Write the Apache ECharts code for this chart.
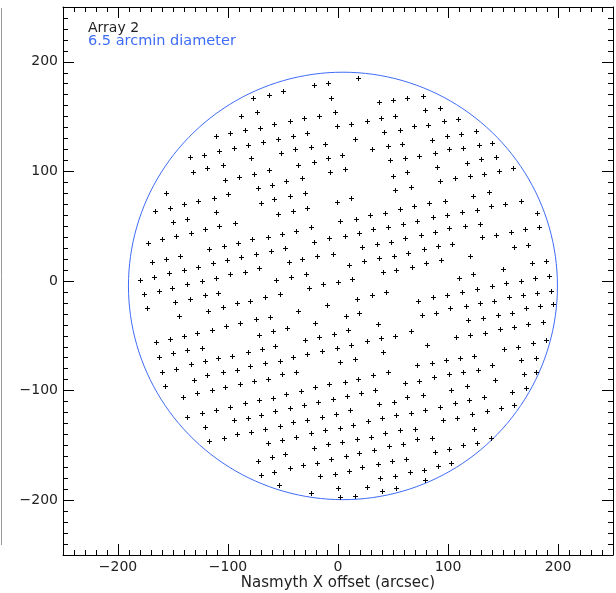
<!DOCTYPE html>
<html>
<head>
<meta charset="utf-8">
<script src="https://cdn.jsdelivr.net/npm/echarts@6/dist/echarts.min.js"></script>
<style>
html, body { margin: 0; padding: 0; background: #fff; }
#chart { width: 616px; height: 593px; }
</style>
</head>
<body>
<div id="chart"></div>
<script>
// detector positions (arcsec)
const nwPoints = [[-77,167],[-63,170],[-88,151],[-74,154],[-85,138],[-71,140],[-111,132],[-98,135],[-82,124],[-68,127],[-135,113],[-122,115],[-108,119],[-95,121],[-79,112],[-132,99],[-119,103],[-105,106],[-63,101],[-90,95],[-76,98],[-103,92],[-73,85],[-156,80],[-100,79],[-113,76],[-127,73],[-140,70],[-153,67],[-166,64],[-70,71],[-111,63]];
const nPoints = [[18,185],[-22,179],[-9,181],[-50,173],[-6,167],[63,167],[50,165],[37,163],[-3,154],[-17,151],[-31,149],[-44,146],[-58,143],[52,151],[39,149],[26,146],[12,143],[-1,141],[69,141],[56,138],[42,136],[-28,135],[-41,132],[-55,130],[15,130],[58,125],[45,123],[31,120],[-12,125],[-25,122],[-39,120],[-52,117],[61,112],[47,110],[4,115],[-9,112],[-22,109],[-36,106],[6,102],[-7,99],[63,99],[50,96],[-33,94],[-47,91],[-60,88],[66,86],[52,83],[12,76],[-1,72],[-30,80],[-44,78],[-58,75],[69,68],[56,66],[43,62],[-28,67],[-41,64],[-55,61]];
const nePoints = [[77,169],[93,158],[79,156],[109,148],[96,146],[82,142],[125,137],[112,134],[99,132],[85,129],[140,126],[128,124],[114,121],[101,120],[88,117],[74,114],[144,113],[130,111],[117,108],[90,104],[159,103],[146,100],[133,98],[120,96],[106,94],[93,91],[137,81],[123,78],[166,73],[152,70],[139,68],[126,65],[113,63],[97,73],[83,71],[181,62]];
const wPoints = [[-150,54],[-137,57],[-94,53],[-108,50],[-121,47],[-134,44],[-147,41],[-160,38],[-173,35],[-64,40],[-78,38],[-91,35],[-104,32],[-117,29],[-61,27],[-75,25],[-88,22],[-144,23],[-156,20],[-169,17],[-101,19],[-114,16],[-127,13],[-140,10],[-154,7],[-167,4],[-180,1],[-72,12],[-85,8],[-98,6],[-111,3],[-124,0],[-137,-3],[-151,-6],[-163,-9],[-176,-12],[-109,-11],[-121,-13],[-135,-16],[-148,-19],[-66,-15],[-80,-18],[-92,-20],[-174,-25],[-105,-24],[-118,-27],[-145,-32],[-62,-33],[-75,-35],[-89,-38],[-102,-41],[-115,-45],[-128,-47],[-140,-50],[-153,-53],[-165,-56],[-72,-49],[-69,-62],[-82,-65],[-96,-68],[-109,-70],[-124,-61],[-137,-63],[-150,-66],[-163,-69]];
const cPoints = [[2,55],[16,57],[29,60],[59,52],[45,49],[32,47],[19,44],[6,41],[-8,39],[-22,36],[-25,49],[-38,46],[-51,43],[61,39],[48,36],[35,34],[22,31],[-48,30],[-5,25],[-19,23],[-33,20],[-45,17],[64,26],[51,23],[37,21],[24,18],[10,15],[67,13],[53,10],[41,8],[-29,6],[-43,4],[-56,1],[13,2],[0,-1],[-14,-3],[-26,-6],[-53,-12],[44,-10],[31,-13],[17,-16],[-10,-22],[-36,-27],[19,-29],[7,-32],[-21,-38],[36,-39],[-46,-43],[-59,-46],[9,-45],[-4,-48],[-17,-51],[-30,-54],[66,-46],[52,-50],[39,-52],[26,-55],[12,-58],[-1,-61],[-15,-64],[-28,-67],[-41,-69],[-57,-59],[41,-65],[15,-71]];
const ePoints = [[72,55],[86,58],[99,60],[75,42],[88,45],[101,48],[115,50],[129,52],[131,40],[144,42],[157,45],[170,47],[183,49],[78,29],[91,32],[104,34],[160,31],[173,33],[120,23],[80,16],[94,19],[176,16],[189,18],[150,11],[123,6],[110,3],[192,5],[179,3],[166,0],[153,-2],[140,-5],[126,-7],[113,-10],[99,-13],[86,-15],[73,-18],[194,-9],[181,-11],[168,-13],[155,-15],[142,-18],[129,-20],[116,-23],[102,-25],[89,-29],[76,-31],[195,-21],[184,-23],[171,-25],[158,-29],[145,-31],[132,-34],[118,-36],[186,-37],[173,-39],[160,-42],[147,-44],[134,-47],[120,-49],[107,-51],[189,-54],[177,-57],[164,-60],[151,-62],[81,-58],[124,-68],[111,-70],[98,-72],[180,-70],[166,-72]];
const swPoints = [[-160,-83],[-147,-80],[-134,-76],[-121,-73],[-92,-81],[-80,-78],[-66,-75],[-131,-90],[-119,-86],[-105,-83],[-157,-96],[-141,-106],[-128,-102],[-115,-99],[-103,-97],[-89,-94],[-76,-91],[-64,-89],[-72,-109],[-85,-111],[-98,-115],[-111,-118],[-124,-120],[-137,-124],[-70,-122],[-82,-125],[-95,-127],[-121,-133],[-66,-135],[-79,-138],[-92,-140],[-104,-143],[-117,-146],[-64,-148],[-60,-161],[-73,-164],[-70,-177]];
const sPoints = [[-53,-73],[2,-74],[72,-77],[-51,-85],[-38,-83],[32,-86],[45,-83],[6,-92],[18,-89],[61,-93],[-8,-94],[-21,-97],[-34,-100],[-47,-103],[-59,-107],[34,-99],[21,-102],[8,-105],[-5,-108],[-18,-110],[-31,-113],[-44,-116],[-57,-119],[63,-106],[51,-110],[37,-112],[11,-118],[-2,-121],[-15,-124],[-28,-127],[-41,-129],[-53,-132],[66,-120],[53,-122],[40,-125],[27,-128],[14,-131],[2,-134],[-12,-136],[-25,-139],[-38,-142],[-51,-145],[70,-135],[56,-136],[43,-139],[30,-142],[17,-144],[4,-147],[-9,-149],[-22,-152],[59,-149],[46,-151],[33,-154],[19,-157],[7,-160],[-6,-162],[-19,-166],[-32,-168],[-44,-171],[-58,-174],[-48,-158],[62,-162],[49,-164],[36,-167],[22,-170],[10,-173],[-3,-176],[-16,-178],[65,-174],[52,-178],[38,-180],[-54,-186],[0,-189],[26,-188],[53,-189],[40,-192],[-25,-193],[2,-197],[15,-196]];
const sePoints = [[85,-75],[140,-77],[74,-91],[87,-88],[101,-85],[114,-83],[127,-81],[143,-90],[169,-85],[180,-83],[77,-104],[103,-99],[117,-96],[158,-101],[171,-98],[133,-106],[119,-109],[106,-111],[93,-115],[79,-118],[160,-113],[148,-116],[135,-119],[122,-121],[108,-125],[95,-127],[124,-135],[139,-143],[126,-148],[114,-150],[101,-153],[88,-156],[72,-144],[85,-143],[103,-166],[91,-169],[78,-172],[79,-182]];

const tickValues = [-200, -100, 0, 100, 200];
const circleCenter = [4.5, -4.5];
const circleDiameter = 390; // 6.5 arcmin

const blue = "#3f6cf6";
const allPoints = [].concat(nwPoints, nPoints, nePoints, wPoints, cPoints, ePoints, swPoints, sPoints, sePoints);

// outline of the field of view
let circle = [];
for (let a = 0; a <= 360; a += 2) {
  let t = a * Math.PI / 180;
  circle.push([circleCenter[0] + circleDiameter / 2 * Math.cos(t), circleCenter[1] + circleDiameter / 2 * Math.sin(t)]);
}

let labelFmt = (v) => String(v).replace("-", "\u2212");
let labelStyle = { fontFamily: "DejaVu Sans", fontSize: 14, color: "#222" };

// minor ticks every 10, major ticks every 100, all pointing inward
let makeAxis = (position, major, withLabels) => {
  let axis = {
    type: "value",
    min: -250,
    max: 250,
    position: position,
    interval: major ? 50 : 10,
    splitLine: { show: false },
    axisLine: { show: !major, onZero: false, lineStyle: { color: "#000", width: 1 } },
    axisTick: { inside: true, length: major ? 11 : 5, lineStyle: { color: "#000", width: 1 } },
    axisLabel: { show: false },
  };
  if (major) {
    axis.axisTick.customValues = tickValues;
    if (withLabels) {
      axis.axisLabel = Object.assign({ show: true, customValues: tickValues, formatter: labelFmt, margin: 5 }, labelStyle);
    }
  }
  return axis;
};

let xAxis = [makeAxis("bottom", false), makeAxis("bottom", true, true), makeAxis("top", false), makeAxis("top", true)];
xAxis[1].name = "Nasmyth X offset (arcsec)";
xAxis[1].nameLocation = "middle";
xAxis[1].nameGap = 21;
xAxis[1].nameMoveOverlap = false;
xAxis[1].nameTextStyle = { fontFamily: "DejaVu Sans", fontSize: 15, color: "#222" };
let yAxis = [makeAxis("left", false), makeAxis("left", true, true), makeAxis("right", false), makeAxis("right", true)];

// crisp "+" marks placed through the axes
let renderPlus = (params, api) => {
  let p = api.coord([api.value(0), api.value(1)]);
  let cx = Math.round(p[0]) + 0.5;
  let cy = Math.round(p[1]) + 0.5;
  let style = { stroke: "#000", lineWidth: 1 };
  return {
    type: "group",
    children: [
      { type: "line", shape: { x1: cx - 2.5, y1: cy, x2: cx + 2.5, y2: cy }, style: style },
      { type: "line", shape: { x1: cx, y1: cy - 2.5, x2: cx, y2: cy + 2.5 }, style: style },
    ],
  };
};

let myEchart = echarts.init(document.getElementById("chart"), null, { renderer: "canvas" });
myEchart.setOption({
  animation: false,
  backgroundColor: "#fff",
  grid: { left: 63, right: 3, top: 7, bottom: 38, containLabel: false, outerBoundsMode: "none" },
  xAxis: xAxis,
  yAxis: yAxis,
  graphic: [
    { type: "line", shape: { x1: 1.5, y1: 8, x2: 1.5, y2: 545 }, style: { stroke: "#999", lineWidth: 1 } },
    { type: "text", left: 88, top: 21, style: { text: "Array 2", fill: "#222", font: "14px 'DejaVu Sans'" } },
    { type: "text", left: 88, top: 34, style: { text: "6.5 arcmin diameter", fill: blue, font: "14.5px 'DejaVu Sans'" } },
  ],
  series: [
    {
      type: "line",
      data: circle,
      showSymbol: false,
      symbol: "none",
      silent: true,
      lineStyle: { color: blue, width: 1 },
      z: 1,
    },
    {
      type: "custom",
      data: allPoints,
      renderItem: renderPlus,
      silent: true,
      z: 2,
    },
  ],
});
</script>
</body>
</html>
